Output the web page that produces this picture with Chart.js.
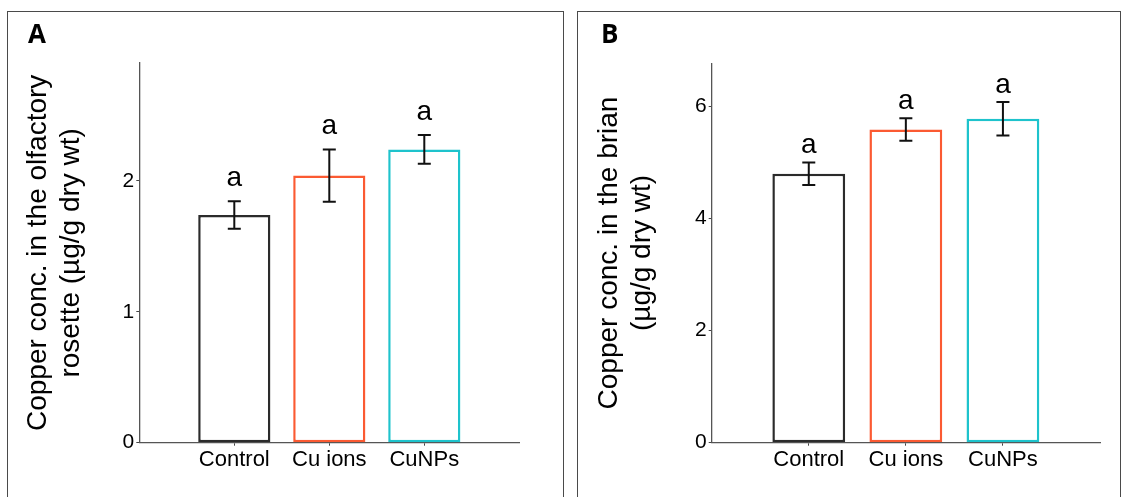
<!DOCTYPE html>
<html>
<head>
<meta charset="utf-8">
<script src="https://cdn.jsdelivr.net/npm/chart.js@4.4.1/dist/chart.umd.min.js"></script>
<style>
  html, body { margin: 0; padding: 0; background: #fff; width: 1123px; height: 497px; overflow: hidden; }
  .frame { position: absolute; border: 1.5px solid #4a4a4a; box-sizing: border-box; }
  #frameA { left: 7px; top: 11px; width: 557px; height: 500px; }
  #frameB { left: 577px; top: 11px; width: 544px; height: 500px; }
  .wrap { position: absolute; top: 0; height: 497px; }
  #wrapA { left: 0; width: 570px; }
  #wrapB { left: 570px; width: 553px; }
</style>
</head>
<body>
<div class="frame" id="frameA"></div>
<div class="frame" id="frameB"></div>
<div class="wrap" id="wrapA"><canvas id="chartA"></canvas></div>
<div class="wrap" id="wrapB"><canvas id="chartB"></canvas></div>
<script>
// data
const categories = ['Control', 'Cu ions', 'CuNPs'];
const olfactoryMeans = [1.74, 2.04, 2.24];
const olfactoryErrors = [0.105, 0.2, 0.11];
const brainMeans = [4.8, 5.59, 5.78];
const brainErrors = [0.2, 0.2, 0.3];
const groupLetters = ['a', 'a', 'a'];
const olfactoryTicks = [0, 1, 2];
const brainTicks = [0, 2, 4, 6];
const barColors = ['#2b2b2b', '#fb5a32', '#1ec3cc'];

const FONT = '"Liberation Sans", Arial, sans-serif';

// error bars + significance letters
const errorLetters = {
  id: 'errorLetters',
  afterDatasetsDraw(chart, args, opts) {
    const ctx = chart.ctx;
    const y = chart.scales.y;
    const meta = chart.getDatasetMeta(0);
    const means = chart.data.datasets[0].data.map(d => d.y);
    ctx.save();
    meta.data.forEach((bar, i) => {
      const top = y.getPixelForValue(means[i] + opts.errors[i]);
      const bot = y.getPixelForValue(means[i] - opts.errors[i]);
      ctx.strokeStyle = '#111';
      ctx.lineWidth = 2;
      ctx.beginPath();
      ctx.moveTo(bar.x, top); ctx.lineTo(bar.x, bot);
      ctx.moveTo(bar.x - 6.5, top); ctx.lineTo(bar.x + 6.5, top);
      ctx.moveTo(bar.x - 6.5, bot); ctx.lineTo(bar.x + 6.5, bot);
      ctx.stroke();
      ctx.fillStyle = '#000';
      ctx.font = '28px ' + FONT;
      ctx.textAlign = 'center';
      ctx.textBaseline = 'alphabetic';
      ctx.fillText(opts.letters[i], bar.x, top - opts.gap);
    });
    ctx.restore();
  }
};

const panelLetter = {
  id: 'panelLetter',
  afterDraw(chart, args, opts) {
    const ctx = chart.ctx;
    ctx.save();
    ctx.fillStyle = '#000';
    ctx.font = '700 26px "Open Sans", sans-serif';
    ctx.textAlign = 'left';
    ctx.textBaseline = 'alphabetic';
    ctx.fillText(opts.text, opts.x, opts.y);
    ctx.restore();
  }
};

function makePanel(id, p) {
  return new Chart(document.getElementById(id), {
    type: 'bar',
    data: {
      datasets: [{
        data: categories.map((c, i) => ({ x: i + 1, y: p.means[i] })),
        backgroundColor: '#ffffff',
        borderColor: barColors,
        borderWidth: 2.5,
        borderSkipped: false,
        barPercentage: p.barPct,
        categoryPercentage: 1
      }]
    },
    options: {
      responsive: true,
      maintainAspectRatio: false,
      animation: false,
      layout: { padding: p.padding },
      plugins: {
        legend: { display: false },
        tooltip: { enabled: false },
        errorLetters: { errors: p.errors, letters: groupLetters, gap: p.gap },
        panelLetter: p.letter
      },
      scales: {
        x: {
          type: 'linear',
          min: 0,
          max: 4,
          offset: false,
          afterBuildTicks: s => { s.ticks = categories.map((c, i) => ({ value: i + 1 })); },
          afterFit: s => { s.height = 40; },
          ticks: {
            callback: v => categories[v - 1],
            color: '#000',
            font: { family: FONT, size: 22 },
            padding: 1,
            maxRotation: 0,
            autoSkip: false
          },
          grid: { offset: false, drawOnChartArea: false, tickLength: 3, color: '#444', lineWidth: 1 },
          border: { display: true, color: '#555', width: 1.3 }
        },
        y: {
          min: 0,
          max: p.yMax,
          afterBuildTicks: s => { s.ticks = p.ticks.map(v => ({ value: v })); },
          afterFit: s => { s.width = p.yWidth; },
          ticks: {
            color: '#000',
            font: { family: FONT, size: 21 },
            padding: 2
          },
          grid: { drawOnChartArea: false, tickLength: 3, color: '#444', lineWidth: 1 },
          border: { display: true, color: '#555', width: 1.3 },
          title: {
            display: true,
            text: p.title,
            color: '#000',
            font: { family: FONT, size: 28, lineHeight: 1.2 },
            padding: { top: 0, bottom: 0 }
          }
        }
      }
    },
    plugins: [errorLetters, panelLetter]
  });
}

makePanel('chartA', {
  means: olfactoryMeans,
  errors: olfactoryErrors,
  ticks: olfactoryTicks,
  yMax: 2.9,
  barPct: 0.76,
  gap: 15,
  padding: { left: 21, right: 50.7, top: 63, bottom: 14.3 },
  yWidth: 118.3,
  title: ['Copper conc. in the olfactory', 'rosette (\u00b5g/g dry wt)'],
  letter: { text: 'A', x: 28, y: 43 }
});

makePanel('chartB', {
  means: brainMeans,
  errors: brainErrors,
  ticks: brainTicks,
  yMax: 6.77,
  barPct: 0.75,
  gap: 9,
  padding: { left: 22, right: 23, top: 63.3, bottom: 14.3 },
  yWidth: 119.7,
  title: ['Copper conc. in the brian', '(\u00b5g/g dry wt)'],
  letter: { text: 'B', x: 31, y: 43 }
});
</script>
</body>
</html>
